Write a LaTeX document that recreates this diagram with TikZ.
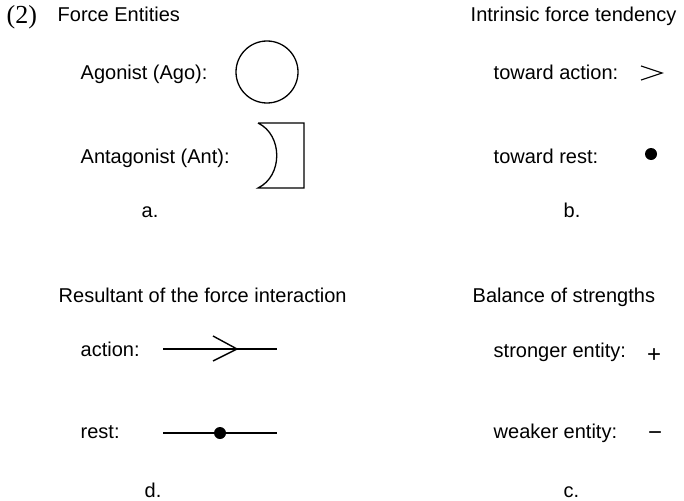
\documentclass[tikz,border=0pt]{standalone}
\usepackage{fontspec}
\setmainfont{Liberation Sans}
\newfontfamily\serifnum{Liberation Serif}
\begin{document}
\begin{tikzpicture}[x=1pt,y=-1pt,line width=1.4pt,
  lbl/.style={anchor=base west,inner sep=0pt,font=\fontsize{20}{24}\selectfont},
  sym/.style={anchor=base,inner sep=0pt,font=\fontsize{24}{28}\selectfont},
  dotnode/.style={circle,fill=black,draw=none,inner sep=0pt,minimum size=12pt},
  entity/.style={line width=1.3pt}]
\useasboundingbox (0,0) rectangle (684,500);
% panel a
\node[lbl] (num) at (6,24) {\serifnum\fontsize{26}{28}\selectfont (2)};
\node[lbl] (fe) at (57,22) {Force Entities};
\node[lbl] (ago) at (80,80) {Agonist (Ago):};
\node[circle,draw,entity,minimum size=62pt,inner sep=0pt] (agoc) at (267,72) {};
\node[lbl] (ant) at (80,163) {Antagonist (Ant):};
\draw[entity] (258,123) -- (304,123) -- (304,188) -- (258,188)
  .. controls (283,176) and (283,135) .. (258,123);
\node[lbl] (la) at (141,217) {a.};
% panel b
\node[lbl] (ift) at (470,22) {Intrinsic force tendency};
\node[lbl] (ta) at (493,80) {toward action:};
\coordinate (ca1) at (641,66);
\coordinate (ca2) at (662,73);
\coordinate (ca3) at (641,80);
\draw[line width=1.1pt] (ca1) -- (ca2) -- (ca3);
\node[lbl] (tr) at (493,163) {toward rest:};
\node[dotnode] (trd) at (651,154) {};
\node[lbl] (lb) at (563,217) {b.};
% panel d
\node[lbl] (rfi) at (58,302) {Resultant of the force interaction};
\node[lbl] (act) at (80,356) {action:};
\coordinate (al) at (163,349);
\coordinate (ar) at (277,349);
\draw (al) -- (ar);
\coordinate (ch1) at (213,336);
\coordinate (ch2) at (237,349);
\coordinate (ch3) at (213,361);
\draw (ch1) -- (ch2) -- (ch3);
\node[lbl] (rst) at (80,438) {rest:};
\coordinate (rl) at (163,433);
\coordinate (rr) at (277,433);
\draw (rl) -- (rr);
\node[dotnode] (rd) at (220,433) {};
\node[lbl] (ld) at (144,497) {d.};
% panel c
\node[lbl] (bos) at (472,302) {Balance of strengths};
\node[lbl] (se) at (493,357) {stronger entity:};
\node[sym] (plus) at (654,362) {+};
\node[lbl] (we) at (493,438) {weaker entity:};
\node[sym] (minus) at (655,440) {−};
\node[lbl] (lc) at (563,497) {c.};
\end{tikzpicture}
\end{document}
